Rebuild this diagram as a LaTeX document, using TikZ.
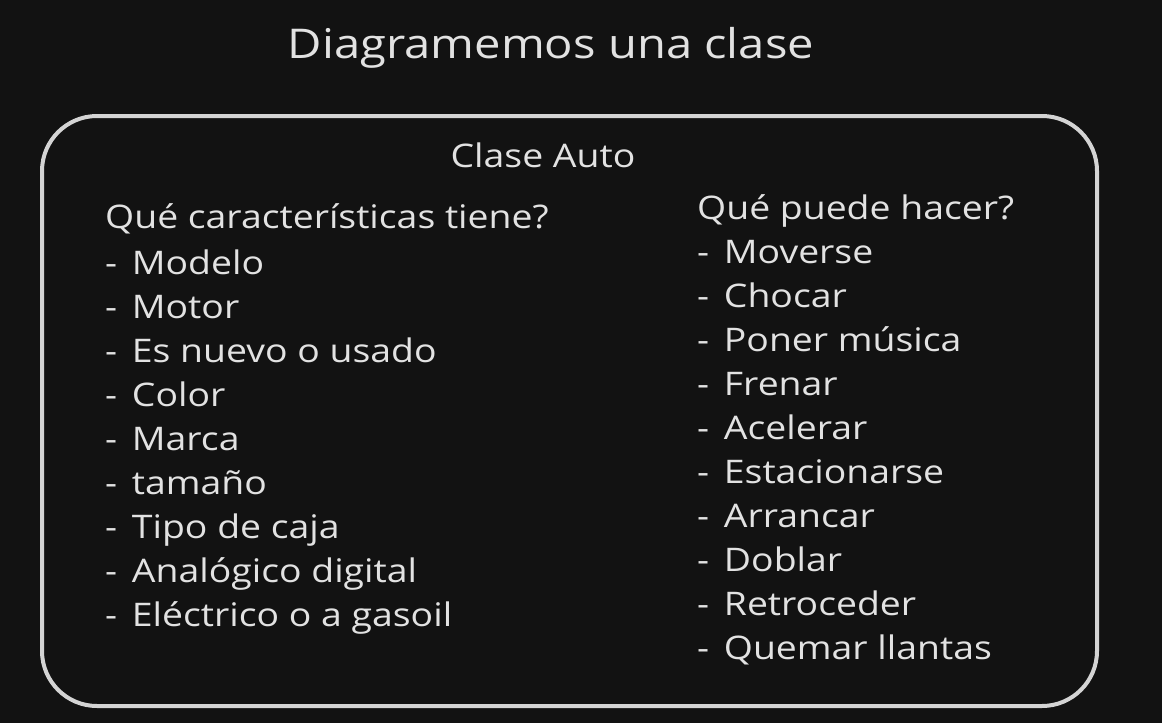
\documentclass[tikz,border=0pt]{standalone}
\usepackage{fontspec}
\setmainfont[FakeStretch=1.15]{Open Sans}
\definecolor{pizarra}{HTML}{121212}
\definecolor{tiza}{HTML}{E2E2E2}
\definecolor{borde}{HTML}{D4D4D4}

\begin{document}
\begin{tikzpicture}[x=1pt,y=-1pt,
  texto/.style={text=tiza,inner sep=0pt,anchor=base west,font=\fontsize{32.5}{38}\selectfont},
  caja/.style={draw=borde,line width=4pt,rounded corners=55pt,inner sep=0pt}]
\fill[pizarra] (0,0) rectangle (1162,723);
\useasboundingbox (0,0) rectangle (1162,723);

\node [texto,anchor=base,font=\fontsize{41}{48}\selectfont] (titulo) at (551,58) {Diagramemos una clase};
\node [caja,minimum width=1055pt,minimum height=590pt] (auto) at (569.5,411) {};
\node [texto,anchor=base] (nombre) at (543,167) {Clase Auto};

% atributos
\node [texto] (caract) at (105,228) {Qué características tiene?};
\foreach \t [count=\i] in {Modelo,Motor,Es nuevo o usado,Color,Marca,tamaño,Tipo de caja,Analógico digital,Eléctrico o a gasoil}
  \node [texto] (a\i) at (105,230+44*\i) {- \kern5pt\t};

% metodos
\node [texto] (hacer) at (697,219) {Qué puede hacer?};
\foreach \t [count=\i] in {Moverse,Chocar,Poner música,Frenar,Acelerar,Estacionarse,Arrancar,Doblar,Retroceder,Quemar llantas}
  \node [texto] (m\i) at (697,219+44*\i) {- \kern5pt\t};
\end{tikzpicture}
\end{document}
